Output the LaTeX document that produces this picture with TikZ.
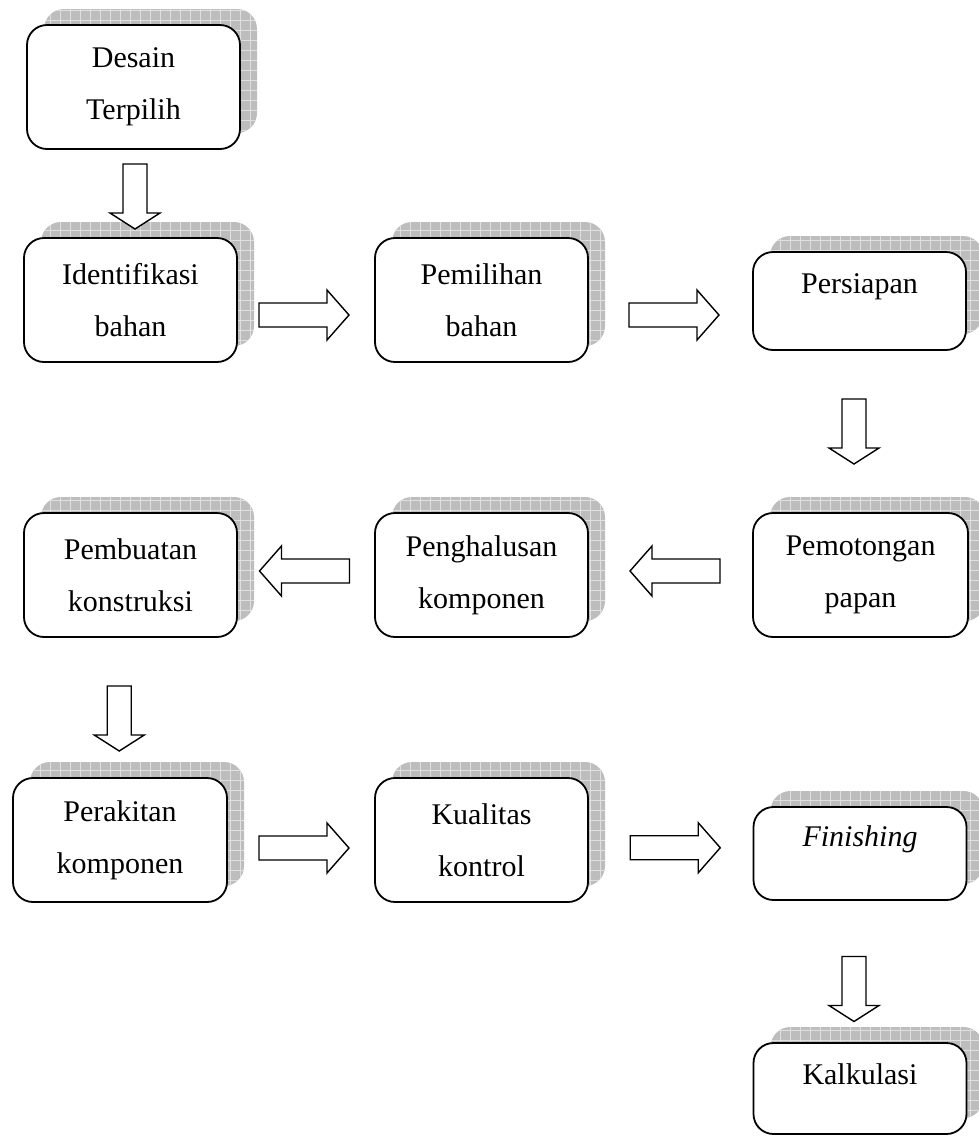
\documentclass[tikz,border=0pt]{standalone}
\usepackage{fontspec}
\setmainfont{Liberation Serif}
\usetikzlibrary{backgrounds,calc}
\definecolor{shadowgray}{HTML}{BDBDBD}
\definecolor{gridgray}{HTML}{E0E0E0}
\tikzset{
  box/.style={draw=black, line width=1.8pt, fill=white, rounded corners=20pt,
    minimum width=213pt, minimum height=124pt, inner sep=0pt, outer sep=0pt,
    align=center, font=\fontsize{30}{52}\selectfont},
  arrowline/.style={draw=black, fill=white, line width=1.4pt, line join=miter},
  harr/.pic={\path[arrowline] (-45,-12) -- (23,-12) -- (23,-25) -- (45,0) -- (23,25) -- (23,12) -- (-45,12) -- cycle;},
  varr/.pic={\path[arrowline] (-32.5,-12) -- (16.5,-12) -- (16.5,-25) -- (32.5,0) -- (16.5,25) -- (16.5,12) -- (-32.5,12) -- cycle;},
}
\newcommand\boxshadow[1]{%
  \begin{scope}[on background layer]
    \coordinate (#1-sa) at ([shift={(17,-16)}]#1.south west);
    \coordinate (#1-sb) at ([shift={(17,-16)}]#1.north east);
    \fill[shadowgray, rounded corners=20pt] (#1-sa) rectangle (#1-sb);
    \begin{scope}
      \clip[rounded corners=20pt] (#1-sa) rectangle (#1-sb);
      \draw[gridgray, line width=0.8pt, step=10pt] (#1-sa) grid (#1-sb);
    \end{scope}
  \end{scope}}
\begin{document}
\begin{tikzpicture}[x=1pt, y=-1pt]
\useasboundingbox (0,0) rectangle (978,1136);
\node[box] (desain) at (133.5,87) {Desain\\Terpilih};
\node[box] (ident) at (130.5,300) {Identifikasi\\bahan};
\node[box] (pemil) at (481.5,300) {Pemilihan\\bahan};
\node[box, minimum height=98pt] (persi) at (859.5,301) {\raisebox{14pt}[\height][\depth]{Persiapan}};
\node[box, minimum width=215pt] (pemot) at (860.5,575) {Pemotongan\\papan};
\node[box] (pembu) at (130.5,575) {Pembuatan\\konstruksi};
\node[box] (pengh) at (481.5,575) {Penghalusan\\komponen};
\node[box, minimum width=214pt] (perak) at (120,840) {Perakitan\\komponen};
\node[box] (kuali) at (481.5,840) {Kualitas\\kontrol};
\node[box, minimum height=93pt] (finish) at (860,853.5) {\raisebox{14pt}[\height][\depth]{\textit{Finishing}}};
\node[box, minimum height=91pt] (kalku) at (860,1088.5) {\raisebox{14pt}[\height][\depth]{Kalkulasi}};
\boxshadow{desain}\boxshadow{ident}\boxshadow{pemil}\boxshadow{persi}
\boxshadow{pemot}\boxshadow{pembu}\boxshadow{pengh}\boxshadow{perak}
\boxshadow{kuali}\boxshadow{finish}\boxshadow{kalku}
\coordinate (a1) at ($(desain.south)!0.5!(ident.north)+(3,3)$);
\coordinate (a2) at ($(ident.east)!0.5!(pemil.west)+(-2,15)$);
\coordinate (a3) at ($(pemil.east)!0.5!(persi.west)+(3.5,14.5)$);
\coordinate (a4) at ($(persi.south)!0.5!(pemot.north)+(-6,0)$);
\coordinate (a5) at ($(pemot.west)!0.5!(pengh.east)+(4.5,-4)$);
\coordinate (a6) at ($(pengh.west)!0.5!(pembu.east)+(-1.5,-4)$);
\coordinate (a7) at ($(pembu.south)!0.5!(perak.north)+(-6,11)$);
\coordinate (a8) at ($(perak.east)!0.5!(kuali.west)+(3,8)$);
\coordinate (a9) at ($(kuali.east)!0.5!(finish.west)+(4.5,1)$);
\coordinate (a10) at ($(finish.south)!0.5!(kalku.north)+(-6,17.5)$);
\pic[rotate=-90] at (a1) {varr};
\pic at (a2) {harr};
\pic at (a3) {harr};
\pic[rotate=-90] at (a4) {varr};
\pic[rotate=180] at (a5) {harr};
\pic[rotate=180] at (a6) {harr};
\pic[rotate=-90] at (a7) {varr};
\pic at (a8) {harr};
\pic at (a9) {harr};
\pic[rotate=-90] at (a10) {varr};
\end{tikzpicture}
\end{document}
